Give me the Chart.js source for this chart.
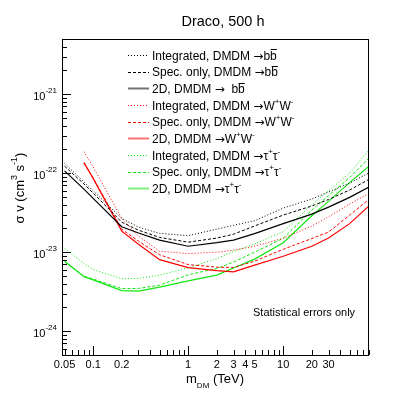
<!DOCTYPE html>
<html>
<head>
<meta charset="utf-8">
<script src="https://cdn.jsdelivr.net/npm/chart.js@4.4.1/dist/chart.umd.min.js"></script>
<style>body{margin:0;background:#fff}</style>
</head>
<body>
<canvas id="graficoDraco" width="411" height="395"></canvas>
<script>
// masses in TeV
const massBB=[0.05,0.08,0.1,0.2,0.3,0.5,1,2,3,5,10,20,30,50,80]
const massWW=[0.08,0.1,0.2,0.3,0.5,1,2,3,5,10,20,30,50,80]
const massTT=[0.05,0.08,0.1,0.2,0.3,0.5,1,2,3,5,10,20,30,50,80]

// sigma v limits (cm^3 s^-1)
const bbIntegrated=[1.33e-22,7.78e-23,5.98e-23,2.68e-23,2.08e-23,1.73e-23,1.62e-23,1.96e-23,2.19e-23,2.5e-23,3.62e-23,4.71e-23,5.78e-23,7.52e-23,1.01e-22]
const bbSpec=[1.23e-22,7.3e-23,5.61e-23,2.4e-23,1.9e-23,1.54e-23,1.34e-23,1.51e-23,1.69e-23,2.15e-23,2.95e-23,3.85e-23,4.65e-23,6.12e-23,8.37e-23]
const bb2D=[1.07e-22,6.3e-23,4.81e-23,2.1e-23,1.75e-23,1.42e-23,1.19e-23,1.32e-23,1.42e-23,1.72e-23,2.3e-23,3.04e-23,3.72e-23,4.95e-23,6.7e-23]
const wwIntegrated=[1.87e-22,1.2e-22,2.67e-23,1.6e-23,1.03e-23,9.6e-24,1.0e-23,1.06e-23,1.19e-23,1.5e-23,2.14e-23,2.81e-23,4.07e-23,5.56e-23]
const wwSpec=[1.34e-22,8.7e-23,1.96e-23,1.38e-23,9.3e-24,6.97e-24,6.47e-24,6.41e-24,7.7e-24,1.09e-23,1.49e-23,1.8e-23,2.95e-23,4.67e-23]
const ww2D=[1.36e-22,8.6e-23,1.85e-23,1.26e-23,8.05e-24,6.38e-24,5.85e-24,5.65e-24,6.86e-24,8.9e-24,1.19e-23,1.51e-23,2.3e-23,3.84e-23]
const ttIntegrated=[1.12e-23,7.2e-24,6.02e-24,4.63e-24,4.65e-24,5.13e-24,6.34e-24,8.3e-24,1.02e-23,1.27e-23,1.82e-23,4.0e-23,6.0e-23,1.0e-22,1.97e-22]
const ttSpec=[7.7e-24,4.98e-24,4.56e-24,3.46e-24,3.48e-24,3.83e-24,5.17e-24,6.24e-24,7.5e-24,1.0e-23,1.5e-23,3.4e-23,5.2e-23,8.8e-23,1.55e-22]
const tt2D=[7.7e-24,4.91e-24,4.46e-24,3.26e-24,3.21e-24,3.61e-24,4.34e-24,5.13e-24,6.3e-24,8.18e-24,1.32e-23,2.9e-23,4.4e-23,7.6e-23,1.23e-22]

const legendLabels=[
    "Integrated, DMDM \u2192b#bar{b}",
    "Spec. only, DMDM \u2192b#bar{b}",
    "2D, DMDM \u2192  b#bar{b}",
    "Integrated, DMDM \u2192W^{+}W^{-}",
    "Spec. only, DMDM \u2192W^{+}W^{-}",
    "2D, DMDM \u2192W^{+}W^{-}",
    "Integrated, DMDM \u2192\u03c4^{+}\u03c4^{-}",
    "Spec. only, DMDM \u2192\u03c4^{+}\u03c4^{-}",
    "2D, DMDM \u2192\u03c4^{+}\u03c4^{-}"
]
const xTickLabels=[0.05,0.1,0.2,1,2,3,4,5,10,20,30]
const yTickLabels=[1e-24,1e-23,1e-22,1e-21]

const FONT='"Liberation Sans", Arial, sans-serif'
const SIMBOLO='"DejaVu Sans", sans-serif'
const NEGRO='#000000', ROJO='#ff0000', VERDE='#12e612'
const PUNTEADO=[1,2], RAYADO=[3,2]

const puntos=(masas,valores)=>masas.map((m,i)=>({x:m,y:valores[i]}))
const serie=(masas,valores,color,dash,ancho)=>({
    data:puntos(masas,valores),
    borderColor:color,
    borderDash:dash,
    borderWidth:ancho,
    pointRadius:0,
    tension:0,
    fill:false
})

// parse "^{..}", "_{..}", "#bar{..}" and the arrow
const partes=(txt)=>txt.split(/(\^\{[^}]*\}|_\{[^}]*\}|#bar\{[^}]*\}|\u2192)/).filter(s=>s.length).map(s=>{
    if(s.startsWith('^{')) return {t:s.slice(2,-1),k:'sup'}
    if(s.startsWith('_{')) return {t:s.slice(2,-1),k:'sub'}
    if(s.startsWith('#bar{')) return {t:s.slice(5,-1),k:'bar'}
    if(s=='\u2192') return {t:s,k:'sym'}
    return {t:s,k:'n'}
})
const fuente=(p,size,subSize)=>{
    if(p.k=='sup'||p.k=='sub') return subSize+'px '+FONT
    if(p.k=='sym') return size+'px '+SIMBOLO
    return size+'px '+FONT
}
const textoRico=(ctx,txt,x,y,size,align,subSize,raise)=>{
    const ps=partes(txt)
    subSize=subSize||Math.round(size*0.7)
    raise=raise||size*0.5
    let w=0
    ps.forEach(p=>{
        ctx.font=fuente(p,size,subSize)
        p.w=ctx.measureText(p.t).width
        w+=p.w
    })
    let cx=align=='center'?x-w/2:(align=='right'?x-w:x)
    ctx.textAlign='left'
    ctx.textBaseline='alphabetic'
    ps.forEach(p=>{
        let dy=0
        if(p.k=='sup') dy=-raise
        if(p.k=='sub') dy=size*0.4
        ctx.font=fuente(p,size,subSize)
        ctx.fillText(p.t,cx,y+dy)
        if(p.k=='bar'){
            ctx.save()
            ctx.lineWidth=1
            ctx.beginPath()
            ctx.moveTo(cx+0.5,Math.round(y-size*0.86)+0.5)
            ctx.lineTo(cx+p.w,Math.round(y-size*0.86)+0.5)
            ctx.stroke()
            ctx.restore()
        }
        cx+=p.w
    })
}

const marco={
    id:'marco',
    beforeDraw(chart){
        const ctx=chart.ctx
        ctx.save()
        ctx.fillStyle='#fff'
        ctx.fillRect(0,0,chart.width,chart.height)
        ctx.restore()
    },
    afterDraw(chart){
        const ctx=chart.ctx
        const a=chart.chartArea
        const xs=chart.scales.x, ys=chart.scales.y
        ctx.save()
        ctx.strokeStyle='#000'
        ctx.fillStyle='#000'
        ctx.lineWidth=1
        ctx.strokeRect(Math.round(a.left)+0.5,Math.round(a.top)+0.5,Math.round(a.right-a.left)-1,Math.round(a.bottom-a.top))
        // x ticks
        ctx.beginPath()
        for(let e=-2;e<=2;e++){
            for(let k=1;k<10;k++){
                const v=k*Math.pow(10,e)
                if(v<xs.min||v>xs.max) continue
                const px=Math.round(xs.getPixelForValue(v))+0.5
                const len=k==1?9:5
                ctx.moveTo(px,a.bottom)
                ctx.lineTo(px,a.bottom-len)
            }
        }
        // y ticks
        for(let e=-26;e<=-20;e++){
            for(let k=1;k<10;k++){
                const v=k*Math.pow(10,e)
                if(v<ys.min||v>ys.max) continue
                const py=Math.round(ys.getPixelForValue(v))+0.5
                const len=k==1?9:5
                ctx.moveTo(a.left,py)
                ctx.lineTo(a.left+len,py)
            }
        }
        ctx.stroke()
        // tick labels
        ctx.font='11px '+FONT
        ctx.textAlign='center'
        ctx.textBaseline='alphabetic'
        xTickLabels.forEach(v=>{
            ctx.fillText(String(v),xs.getPixelForValue(v),367.5)
        })
        yTickLabels.forEach(v=>{
            const py=ys.getPixelForValue(v)
            textoRico(ctx,'10^{'+Math.round(Math.log10(v))+'}',57,py+5.5,11,'right',8,7)
        })
        // titles
        ctx.font='14.5px '+FONT
        ctx.textAlign='center'
        ctx.fillText('Draco, 500 h',223,26)
        textoRico(ctx,'m_{DM} (TeV)',215,383,13,'center',8)
        ctx.save()
        ctx.translate(24,188)
        ctx.rotate(-Math.PI/2)
        textoRico(ctx,'\u03c3 v (cm^{3} s^{-1})',0,0,13,'center',9,7)
        ctx.restore()
        ctx.font='11px '+FONT
        ctx.textAlign='left'
        ctx.fillText('Statistical errors only',253,315.5)
        // legend
        chart.data.datasets.forEach((ds,i)=>{
            const yc=55+i*16.67
            ctx.save()
            ctx.strokeStyle=ds.borderColor
            ctx.globalAlpha=ds.borderWidth>1?0.55:1
            ctx.setLineDash(ds.borderDash||[])
            ctx.lineWidth=ds.borderWidth>1?2:1
            ctx.beginPath()
            ctx.moveTo(128,Math.round(yc)+0.5)
            ctx.lineTo(149,Math.round(yc)+0.5)
            ctx.stroke()
            ctx.restore()
            textoRico(ctx,legendLabels[i],152,yc+4.5,12,'left',8,6)
        })
        ctx.restore()
    }
}

const ctx=document.getElementById("graficoDraco")
new Chart(ctx,{
    type:'line',
    data:{
        datasets:[
            serie(massBB,bbIntegrated,NEGRO,PUNTEADO,1),
            serie(massBB,bbSpec,NEGRO,RAYADO,1),
            serie(massBB,bb2D,NEGRO,[],1.2),
            serie(massWW,wwIntegrated,ROJO,PUNTEADO,1),
            serie(massWW,wwSpec,ROJO,RAYADO,1),
            serie(massWW,ww2D,ROJO,[],1.2),
            serie(massTT,ttIntegrated,VERDE,PUNTEADO,1),
            serie(massTT,ttSpec,VERDE,RAYADO,1),
            serie(massTT,tt2D,VERDE,[],1.2)
        ]
    },
    options:{
        responsive:false,
        animation:false,
        devicePixelRatio:1,
        layout:{padding:{left:62,top:39,right:42,bottom:40}},
        plugins:{legend:{display:false},tooltip:{enabled:false},title:{display:false}},
        scales:{
            x:{type:'logarithmic',min:0.047,max:80,display:false},
            y:{type:'logarithmic',min:5e-25,max:5e-21,display:false}
        }
    },
    plugins:[marco]
})
</script>
</body>
</html>
